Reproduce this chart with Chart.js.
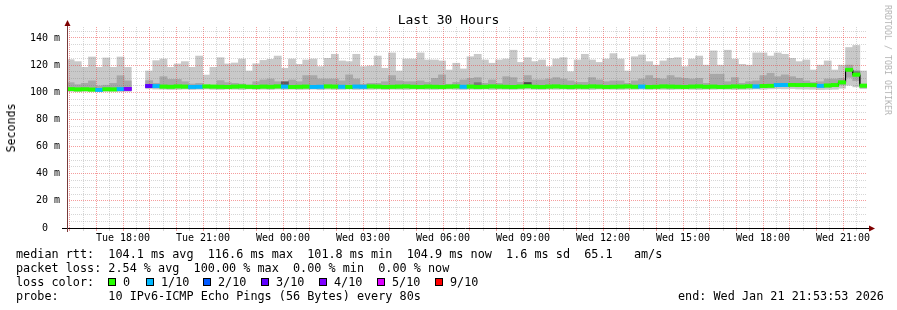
<!DOCTYPE html>
<html>
<head>
<meta charset="utf-8">
<script src="https://cdn.jsdelivr.net/npm/chart.js@4/dist/chart.umd.min.js"></script>
<style>
html,body{margin:0;padding:0;background:#fff;}
#wrap{position:relative;width:897px;height:310px;overflow:hidden;background:#fff;font-family:"DejaVu Sans Mono",monospace;color:#000;}
#c{position:absolute;left:0;top:0;}
.t{position:absolute;white-space:pre;font-size:11.8px;line-height:14px;}
.box{position:absolute;width:6px;height:6px;border:1px solid #000;top:278px;}
#title{position:absolute;left:0;top:12px;width:897px;text-align:center;font-size:13px;line-height:16px;white-space:pre;}
#ylab{position:absolute;left:11px;top:127.5px;font-size:11.6px;line-height:14px;white-space:pre;transform:translate(-50%,-50%) rotate(-90deg);}
#wm{position:absolute;left:887.5px;top:60px;font-size:8.3px;line-height:10px;white-space:pre;color:#b4b4b4;transform:translate(-50%,-50%) rotate(90deg);}
</style>
</head>
<body>
<div id="wrap">
<canvas id="c" width="897" height="310"></canvas>
<div id="title">Last 30 Hours</div>
<div id="ylab">Seconds</div>
<div id="wm">RRDTOOL / TOBI OETIKER</div>
<div class="t" style="left:16px;top:247px">median rtt:  104.1 ms avg  116.6 ms max  101.8 ms min  104.9 ms now  1.6 ms sd  65.1   am/s</div>
<div class="t" style="left:16px;top:261px">packet loss: 2.54 % avg  100.00 % max  0.00 % min  0.00 % now</div>
<div class="t" style="left:16px;top:275px">loss color:</div>
<div id="lossLegend"></div>
<div class="t" style="left:16px;top:289px">probe:       10 IPv6-ICMP Echo Pings (56 Bytes) every 80s</div>
<div class="t" style="left:678px;top:289px">end: Wed Jan 21 21:53:53 2026</div>
</div>
<script>
// ---------- data ----------
const START_H = 15 + 53/60 + 53/3600;   // Tue 15:53:53
const SPAN_H = 30;                      // last 30 hours

// upper edge of the outer smoke (ms)
const smokeHigh = [124,122.6,118.4,126,118.4,125.3,118.4,126,118.4,null,
 null,115.7,123.3,124.5,118.4,120.9,122.6,118.4,126.7,112.7,
 118.4,125.5,120.9,121.6,124.5,115.7,121,123.5,124.3,126.7,
 117.7,124.5,120.6,123.8,124.5,118.9,125,128,123.1,122.6,
 128,118.9,119.4,126.7,117.7,129,115.7,124.5,124.5,129,
 123.8,123.8,123.1,116.4,121.4,117.2,126.2,128,123.8,121.4,
 123.8,124.5,131,122,125.5,122.6,123.8,118.9,124.5,125.5,
 115.2,123.8,128,123.8,122,124.5,128.5,124.5,115.7,126.2,
 127.5,122.6,120,123.1,125,125.5,118.9,124.5,126.7,120,
 130.5,120,131,124.5,120.6,120,129,129,126.7,129,
 128,125,122.6,123.8,116.4,120,123.1,116.4,120,133,
 134.5,115.7];

// lower edge of the outer smoke (ms)
const smokeLow = [100.6,100.5,100.7,100.6,100.5,100.6,100.7,100.5,100.6,null,
 null,102.6,102.3,102.2,102.0,102.1,102.3,102.0,102.2,102.4,
 102.1,102.0,102.3,102.2,102.0,102.4,102.1,102.2,102.0,102.3,
 102.1,102.2,102.0,102.1,102.3,101.9,102.2,102.0,102.1,102.3,
 102.0,102.2,102.1,102.3,102.0,102.2,102.1,102.0,102.3,102.2,
 102.1,102.0,102.2,102.3,102.1,102.0,102.2,102.1,102.3,102.0,
 102.2,102.1,102.0,102.2,102.3,102.1,102.0,102.2,102.1,102.3,
 102.0,102.2,102.1,102.0,102.3,102.2,102.1,102.0,102.2,102.1,
 102.3,102.0,102.2,102.1,102.0,102.2,102.3,102.1,102.0,102.2,
 102.1,102.3,102.2,102.0,102.1,102.2,102.4,102.2,102.5,102.6,
 102.5,102.7,102.4,102.3,102.2,102.0,102.1,102.2,103.0,105.2,
 104.0,102.6];

// inner (darker) smoke band
const innerHigh = [107.1,105.6,106.6,108.4,104.7,105.2,106.6,112.2,108.4,null,
 null,108.6,106.6,111.5,109.5,109.5,107.8,106.1,106.6,104.9,
 104.9,108.6,107.1,106.6,106.1,105.4,107.8,109.1,109.8,107.8,
 106.6,109.1,107.8,112.3,112.3,109.8,109.8,109.8,108.4,112.8,
 109.8,105.9,106.6,106.6,107.8,112.3,108.4,107.8,107.8,108.4,
 107.3,110.3,112.8,105.9,107.3,109.1,110.3,110.8,106.6,109.1,
 106.6,111.5,110.8,107.3,112.3,109.1,109.1,109.8,110.8,109.8,
 108.4,107.3,107.3,110.8,109.1,107.8,108.4,108.4,106.6,108.4,
 109.8,112.3,110.3,109.8,112.3,110.8,110.3,109.8,110.3,106.6,
 113.3,113.3,107.8,110.8,106.6,107.8,108.4,112.3,114,111.5,
 112.8,111.5,110.3,108.4,107.3,107.8,109.8,109.8,110.3,120,
 116,104.2];
const innerLow = [101.2,101.1,101.3,101.2,101.0,101.2,101.3,101.1,101.2,null,
 null,103.4,103.2,103.1,103.0,103.2,103.1,102.9,103.0,103.2,
 103.1,103.0,102.9,103.1,103.2,103.0,102.9,103.1,103.0,103.2,
 103.1,102.9,103.0,103.1,102.9,103.0,103.2,103.1,103.0,102.9,
 103.1,103.0,103.2,103.1,102.9,103.0,103.1,103.2,103.0,102.9,
 103.1,103.0,102.9,103.1,103.2,103.0,103.1,102.9,103.0,103.2,
 103.1,103.0,102.9,103.1,103.3,103.0,102.9,103.1,103.2,103.0,
 102.9,103.1,103.0,103.2,103.1,102.9,103.0,103.1,103.2,103.0,
 103.1,102.9,103.0,103.2,103.1,103.0,102.9,103.1,103.2,103.0,
 103.1,102.9,103.0,103.2,103.1,103.3,103.2,103.5,103.7,104.1,
 104.2,104.3,104.1,104.2,104.0,103.6,103.8,104.1,105.5,111.0,
 108.5,103.4];

// a few darker spots in the smoke
const darkBins = [30, 57, 64, 110];
const darkLow = [105.4, 105.6, 104.9, 113.6];
const darkHigh = [107.8, 107.1, 107.2, 115.2];
const darkShade = ['#5c5c5c', '#7a7a7a', '#4c4c4c', '#7a7a7a'];

// median round trip time (ms)
const medianRtt = [102.3,102.1,102.2,102.0,101.8,102.2,102.1,102.3,102.5,null,
 null,104.6,104.5,104.2,104.1,104.3,104.2,104.0,104.1,104.3,
 104.2,104.1,104.0,104.2,104.3,104.1,104.0,104.2,104.1,104.3,
 104.2,104.0,104.1,104.2,104.0,104.1,104.3,104.2,104.1,104.0,
 104.2,104.1,104.3,104.2,104.0,104.1,104.2,104.3,104.1,104.0,
 104.2,104.1,104.0,104.2,104.3,104.1,104.2,104.0,104.1,104.3,
 104.2,104.1,104.0,104.2,104.4,104.1,104.0,104.2,104.3,104.1,
 104.0,104.2,104.1,104.3,104.2,104.0,104.1,104.2,104.3,104.1,
 104.2,104.0,104.1,104.3,104.2,104.1,104.0,104.2,104.3,104.1,
 104.2,104.0,104.1,104.3,104.2,104.4,104.3,104.6,104.8,105.3,
 105.4,105.5,105.3,105.4,105.2,104.8,105.0,105.3,107.3,116.6,
 113.0,104.9];

// lost pings out of 10 per bin
const lossCount = [0,0,0,0,1,0,0,1,4,null,
 null,3,1,0,0,0,0,1,1,0,
 0,0,0,0,0,0,0,0,0,0,
 1,0,0,0,1,1,0,0,1,0,
 1,1,0,0,0,0,0,0,0,0,
 0,0,0,0,0,1,0,0,0,0,
 0,0,0,0,0,0,0,0,0,0,
 0,0,0,0,0,0,0,0,0,0,
 1,0,0,0,0,0,0,0,0,0,
 0,0,0,0,0,0,1,0,0,1,
 1,0,0,0,0,1,0,0,0,0,
 0,0];

const lossColors = ['#26ff00','#00b8ff','#0059ff','#5e00ff','#7e00ff','#dd00ff','#ff0000','#ff0000','#ff0000','#ff0000','#ff0000'];
const lossLegendLabels = ['0','1/10','2/10','3/10','4/10','5/10','9/10'];
const lossLegendColors = ['#26ff00','#00b8ff','#0059ff','#5e00ff','#7e00ff','#dd00ff','#ff0000'];

const xLabelHours = [18,21,24,27,30,33,36,39,42,45];
const xLabelTexts = ['Tue 18:00','Tue 21:00','Wed 00:00','Wed 03:00','Wed 06:00','Wed 09:00','Wed 12:00','Wed 15:00','Wed 18:00','Wed 21:00'];
const yLabelValues = [0,20,40,60,80,100,120,140];
const yLabelTexts = ['0  ','20 m','40 m','60 m','80 m','100 m','120 m','140 m'];

// categories: one 16-minute bin each
const binTimes = medianRtt.map((_, i) => {
  const t = START_H + (i + 0.5) * SPAN_H / medianRtt.length;
  const h = Math.floor(t) % 24, m = Math.floor((t % 1) * 60);
  return (t >= 24 ? 'Wed ' : 'Tue ') + String(h).padStart(2,'0') + ':' + String(m).padStart(2,'0');
});

// grid positions
const xGridHours = [];
for (let h = Math.ceil(START_H * 2) / 2; h < START_H + SPAN_H; h += 0.5) xGridHours.push(h);
const yGridValues = [];
for (let v = 0; v <= 145; v += 5) yGridValues.push(v);

// ---------- legend boxes ----------
const boxX = [108, 146, 203, 261, 319, 377, 435];
const labX = [123, 161, 218, 276, 334, 392, 450];
const ll = document.getElementById('lossLegend');
lossLegendLabels.forEach((lab, i) => {
  const b = document.createElement('div');
  b.className = 'box'; b.style.left = boxX[i] + 'px'; b.style.background = lossLegendColors[i];
  ll.appendChild(b);
  const t = document.createElement('div');
  t.className = 't'; t.style.left = labX[i] + 'px'; t.style.top = '275px'; t.textContent = lab;
  ll.appendChild(t);
});

// ---------- chart ----------
const RED = 'rgba(235,60,60,0.5)';
const GRAY = 'rgba(120,120,120,0.3)';
const MONO = '"DejaVu Sans Mono", monospace';

const darkData = medianRtt.map(() => null);
const darkColors = medianRtt.map(() => 'transparent');
darkBins.forEach((b, k) => { darkData[b] = [darkLow[k], darkHigh[k]]; darkColors[b] = darkShade[k]; });

const overlay = {
  id: 'overlay',
  afterDraw(chart) {
    const ctx = chart.ctx, a = chart.chartArea;
    ctx.save();
    ctx.beginPath(); ctx.rect(a.left, a.top, a.right - a.left, a.bottom - a.top); ctx.clip();
    [3, 4].forEach(i => chart.getDatasetMeta(i).controller.draw());
    ctx.restore();
    ctx.save();
    ctx.lineWidth = 1;
    ctx.strokeStyle = '#000';
    ctx.beginPath(); ctx.moveTo(a.left - 5, a.bottom + 0.5); ctx.lineTo(a.right + 2, a.bottom + 0.5); ctx.stroke();
    ctx.strokeStyle = '#7a3a3a';
    ctx.beginPath(); ctx.moveTo(a.left + 0.5, a.bottom + 4); ctx.lineTo(a.left + 0.5, a.top - 1); ctx.stroke();
    ctx.fillStyle = '#7f0000';
    ctx.beginPath(); ctx.moveTo(a.right + 8, a.bottom + 0.5); ctx.lineTo(a.right + 2, a.bottom - 2.5); ctx.lineTo(a.right + 2, a.bottom + 3.5); ctx.closePath(); ctx.fill();
    ctx.beginPath(); ctx.moveTo(a.left + 0.5, a.top - 7); ctx.lineTo(a.left - 2.5, a.top - 1); ctx.lineTo(a.left + 3.5, a.top - 1); ctx.closePath(); ctx.fill();
    ctx.restore();
  }
};

new Chart(document.getElementById('c'), {
  data: {
    labels: binTimes,
    datasets: [
      { type: 'bar', label: 'smoke', data: smokeHigh.map((h, i) => h == null ? null : [smokeLow[i], h]),
        backgroundColor: '#c9c9c9', order: 6, grouped: false, barPercentage: 1, categoryPercentage: 1, borderWidth: 0 },
      { type: 'bar', label: 'inner smoke', data: innerHigh.map((h, i) => h == null ? null : [innerLow[i], h]),
        backgroundColor: '#a8a8a8', order: 5, grouped: false, barPercentage: 1, categoryPercentage: 1, borderWidth: 0 },
      { type: 'bar', label: 'dark smoke', data: darkData,
        backgroundColor: darkColors, order: 4, grouped: false, barPercentage: 1, categoryPercentage: 1, borderWidth: 0 },
      { type: 'line', label: 'median', data: medianRtt, borderColor: '#000', borderWidth: 1, pointRadius: 0,
        stepped: 'middle', spanGaps: false, order: 3 },
      { type: 'bar', label: 'loss', data: medianRtt.map(m => m == null ? null : [m - 1.1, m + 1.1]),
        backgroundColor: lossCount.map(l => l == null ? 'transparent' : lossColors[l]),
        order: 2, grouped: false, barPercentage: 1, categoryPercentage: 1, borderWidth: 0 }
    ]
  },
  options: {
    responsive: false, animation: false, devicePixelRatio: 1,
    layout: { padding: { left: 0, right: 30, top: 27, bottom: 0 } },
    plugins: { legend: { display: false }, tooltip: { enabled: false }, title: { display: false } },
    scales: {
      x: { type: 'category', display: false, offset: true, grid: { display: false } },
      xTime: {
        type: 'linear', position: 'bottom', min: START_H, max: START_H + SPAN_H,
        afterBuildTicks(s) { s.ticks = xGridHours.map(v => ({ value: v })); },
        afterFit(s) { s.height = 82; },
        ticks: {
          autoSkip: false, maxRotation: 0, minRotation: 0, padding: 1, color: '#000',
          font: { family: MONO, size: 10 },
          callback: (v) => { const k = xLabelHours.findIndex(h => Math.abs(h - v) < 1e-6); return k < 0 ? '' : xLabelTexts[k]; }
        },
        grid: {
          z: 1, drawTicks: true, tickLength: 3, lineWidth: 1,
          color: c => (Math.abs(c.tick.value % 1) < 1e-6 ? RED : GRAY),
          tickColor: c => (Math.abs(c.tick.value % 1) < 1e-6 ? RED : GRAY)
        },
        border: { display: false, dash: [1, 1] }
      },
      y: {
        position: 'left', min: 0, max: 148.1,
        afterBuildTicks(s) { s.ticks = yGridValues.map(v => ({ value: v })); },
        afterFit(s) { s.width = 67; },
        ticks: {
          autoSkip: false, padding: 7, color: '#000', font: { family: MONO, size: 10 },
          callback: (v) => { const k = yLabelValues.indexOf(v); return k < 0 ? '' : yLabelTexts[k]; }
        },
        grid: {
          z: 1, drawTicks: false, lineWidth: 1,
          color: c => (c.tick.value === 0 ? 'rgba(0,0,0,0)' : (c.tick.value % 20 === 0 ? RED : GRAY))
        },
        border: { display: false, dash: [1, 1] }
      }
    }
  },
  plugins: [overlay]
});
</script>
</body>
</html>
